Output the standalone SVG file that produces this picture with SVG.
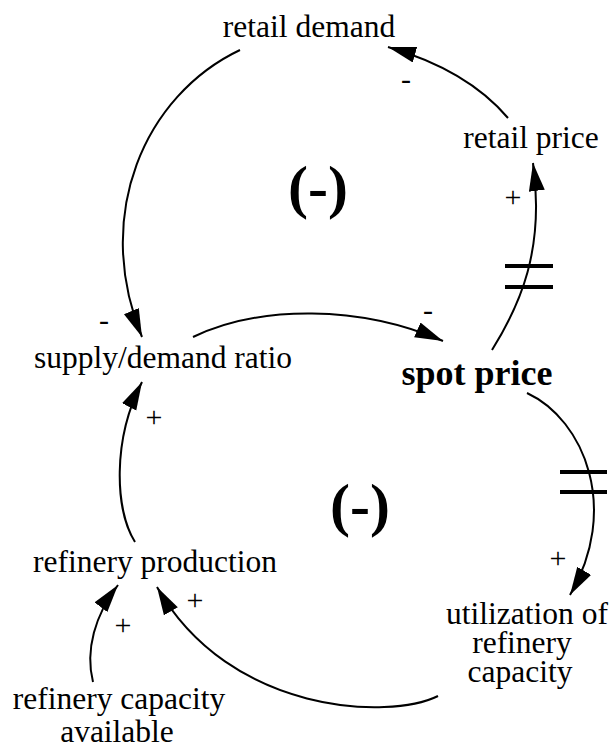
<svg xmlns="http://www.w3.org/2000/svg" width="614" height="749" viewBox="0 0 614 749">
<style>
text{font-family:"Liberation Serif","Times New Roman",serif;fill:#000;text-anchor:middle}
.lbl{font-size:31.5px}
.bold{font-weight:bold}
.sign{font-size:30px}
.loop{font-size:60px;font-weight:bold}
.link{fill:none;stroke:#000;stroke-width:2;marker-end:url(#ah)}
.delay{stroke:#000;stroke-width:4}
</style>
<defs>
<marker id="ah" markerUnits="userSpaceOnUse" markerWidth="29" markerHeight="17" refX="28" refY="8" orient="auto">
<path d="M0,0 L28,8 L0,16 z" fill="#000"/>
</marker>
</defs>
<rect width="614" height="749" fill="#fff"/>
<g id="connectors">
<path class="link" d="M240,50 C145,95 92,215 142,337"/>
<path class="link" d="M193,337 C260,305 360,305 443,341"/>
<path class="link" d="M492,350 C520,305 545,250 533,163"/>
<path class="link" d="M508,118 C480,85 440,62 388,47"/>
<path class="link" d="M527,393 C585,420 620,510 570,595"/>
<path class="link" d="M438,696 C390,720 230,715 157,587"/>
<path class="link" d="M93,682 C85,650 95,615 118,585"/>
<path class="link" d="M135,542 C115,510 112,440 142,382"/>
<line class="delay" x1="505" y1="266" x2="553" y2="266"/>
<line class="delay" x1="505" y1="287" x2="553" y2="287"/>
<line class="delay" x1="560" y1="472" x2="607" y2="472"/>
<line class="delay" x1="560" y1="492" x2="607" y2="492"/>
<text class="sign" x="406" y="89">-</text>
<text class="sign" x="513" y="207">+</text>
<text class="sign" x="428" y="320">-</text>
<text class="sign" x="104" y="330">-</text>
<text class="sign" x="154" y="427">+</text>
<text class="sign" x="558" y="568">+</text>
<text class="sign" x="195" y="610">+</text>
<text class="sign" x="123" y="635">+</text>
</g>
<g id="loop1"><text class="loop" x="318" y="207">(-)</text></g>
<g id="loop2"><text class="loop" x="360" y="525">(-)</text></g>
<g id="retail-demand"><text class="lbl" x="309" y="37">retail demand</text></g>
<g id="retail-price"><text class="lbl" x="531" y="148">retail price</text></g>
<g id="supply-demand-ratio"><text class="lbl" x="163" y="368">supply/demand ratio</text></g>
<g id="spot-price"><text class="bold" style="font-size:36px" x="477" y="385">spot price</text></g>
<g id="refinery-production"><text class="lbl" x="155" y="572">refinery production</text></g>
<g id="utilization"><text class="lbl"><tspan x="527" y="624">utilization of</tspan><tspan x="522" y="653">refinery</tspan><tspan x="520" y="682">capacity</tspan></text></g>
<g id="refinery-capacity"><text class="lbl"><tspan x="119" y="709">refinery capacity</tspan><tspan x="117" y="742">available</tspan></text></g>
</svg>
